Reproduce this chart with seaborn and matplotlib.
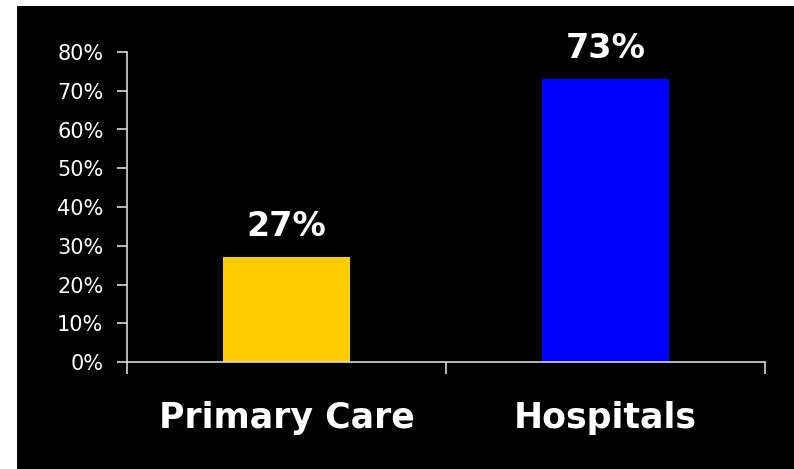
import matplotlib
matplotlib.use("Agg")
import matplotlib.pyplot as plt
from matplotlib.patches import Rectangle
from matplotlib.ticker import FixedLocator, PercentFormatter
import seaborn as sns
import pandas as pd

# Share of cases by setting
categories = ["Primary Care", "Hospitals"]
shares = [27, 73]
bar_colors = ["#FFCC00", "#0000FF"]
y_ticks = [0, 10, 20, 30, 40, 50, 60, 70, 80]

df = pd.DataFrame({"setting": categories, "share": shares})

sns.set_style("white")
plt.rcParams["font.family"] = ["DejaVu Sans"]

fig = plt.figure(figsize=(7.94, 4.69), dpi=100, facecolor="white")
# black slide background, inset from the left and top edges
fig.add_artist(Rectangle((17 / 794, 0), 1 - 17 / 794, 1 - 6 / 469,
                         transform=fig.transFigure, facecolor="black",
                         edgecolor="none", zorder=0))

ax = fig.add_axes([127 / 794, 1 - 362 / 469, (765 - 127) / 794, (362 - 52) / 469])
ax.set_facecolor("black")

sns.barplot(data=df, x="setting", y="share", hue="setting",
            palette=bar_colors, legend=False, width=0.4,
            saturation=1, ax=ax, edgecolor="none")

for cont, val in zip(ax.containers, shares):
    ax.bar_label(cont, labels=[f"{val}%"], padding=10, color="white",
                 fontsize=24, fontweight="bold")

ax.set_ylim(0, 80)
ax.set_xlim(-0.5, 1.5)
ax.set_yticks(y_ticks)
ax.yaxis.set_major_formatter(PercentFormatter(decimals=0))
ax.set_xlabel("")
ax.set_ylabel("")

for side in ["top", "right"]:
    ax.spines[side].set_visible(False)
for side in ["left", "bottom"]:
    ax.spines[side].set_color("#d8d8d8")
    ax.spines[side].set_linewidth(1.2)

ax.tick_params(axis="y", which="major", direction="out", length=7,
               width=1.2, color="#d8d8d8", labelcolor="white",
               labelsize=15, pad=10, left=True)
# category boundary ticks below the axis, labels centred on the bars
ax.xaxis.set_minor_locator(FixedLocator([-0.5, 0.5, 1.5]))
ax.tick_params(axis="x", which="minor", direction="out", length=8.5,
               width=1.2, color="#d8d8d8", bottom=True)
ax.tick_params(axis="x", which="major", length=0, labelcolor="white",
               labelsize=25, pad=28, bottom=True)
for lbl in ax.get_xticklabels():
    lbl.set_fontweight("bold")

fig.savefig("out.png", dpi=100, facecolor=fig.get_facecolor())
